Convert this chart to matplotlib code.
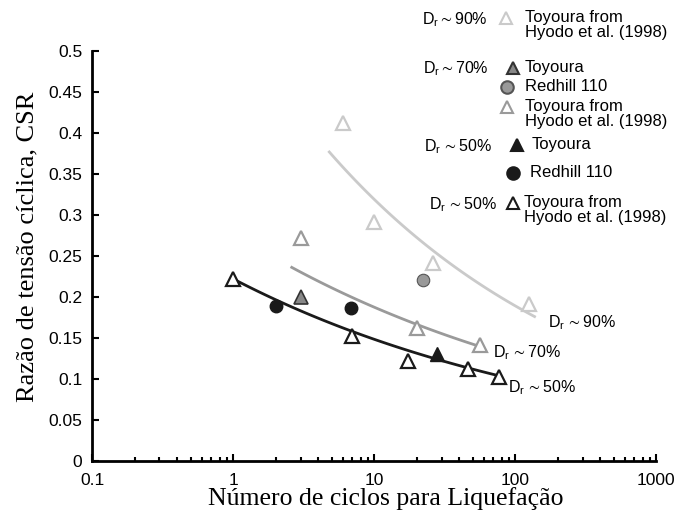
import numpy as np
import matplotlib
matplotlib.use("Agg")
import matplotlib.pyplot as plt

plt.rcParams['font.family'] = ['Liberation Sans', 'DejaVu Sans']
plt.rcParams['mathtext.fontset'] = 'custom'
plt.rcParams['mathtext.rm'] = 'Liberation Sans'
plt.rcParams['mathtext.it'] = 'Liberation Sans'
plt.rcParams['mathtext.fallback'] = 'stixsans'

# Dr ~90%, Toyoura from Hyodo et al. (1998)
n_90_hyodo = [6, 10, 26, 126]
csr_90_hyodo = [0.412, 0.291, 0.241, 0.192]

# Dr ~70%
n_70_toy = [3]
csr_70_toy = [0.20]
n_70_red = [22]
csr_70_red = [0.221]
n_70_hyodo = [3, 20, 56]
csr_70_hyodo = [0.272, 0.162, 0.141]

# Dr ~50%
n_50_toy = [28]
csr_50_toy = [0.131]
n_50_red = [2, 6.8]
csr_50_red = [0.189, 0.187]
n_50_hyodo = [1, 7, 17.4, 46, 77]
csr_50_hyodo = [0.222, 0.152, 0.122, 0.112, 0.102]

# trend curves CSR = a * N^b
curve_90 = dict(a=0.538, b=-0.227, n0=4.8, n1=137)
curve_70 = dict(a=0.278, b=-0.171, n0=2.6, n1=56)
curve_50 = dict(a=0.222, b=-0.175, n0=1.0, n1=78)

c90 = '#cacaca'
c70 = '#9a9a9a'
c50 = '#1a1a1a'

fig = plt.figure(figsize=(6.78, 5.2), dpi=100)
ax = fig.add_axes([0.136, 0.1135, 0.832, 0.7885])

for cv, col in [(curve_90, c90), (curve_70, c70), (curve_50, c50)]:
    nn = np.logspace(np.log10(cv['n0']), np.log10(cv['n1']), 60)
    ax.plot(nn, cv['a'] * nn ** cv['b'], color=col, lw=2, zorder=1)

tri = dict(marker='^', ms=10, mew=1.6, ls='none', zorder=3)
ax.plot(n_90_hyodo, csr_90_hyodo, mfc='white', mec=c90, **tri)
ax.plot(n_70_hyodo, csr_70_hyodo, mfc='white', mec=c70, **tri)
ax.plot(n_70_toy, csr_70_toy, mfc='#888888', mec='#333333', marker='^', ms=10, mew=1.2, ls='none', zorder=3)
ax.plot(n_70_red, csr_70_red, 'o', ms=9, mfc='#999999', mec='#555555', mew=0.8, zorder=3)
ax.plot(n_50_hyodo, csr_50_hyodo, mfc='white', mec=c50, **tri)
ax.plot(n_50_toy, csr_50_toy, '^', ms=10, color=c50, zorder=3)
ax.plot(n_50_red, csr_50_red, 'o', ms=9, color=c50, zorder=3)

ax.set_xscale('log')
ax.set_xlim(0.1, 1000)
ax.set_ylim(0, 0.5)
yt = np.arange(0, 0.51, 0.05)
ax.set_yticks(yt)
ax.set_yticklabels(['0', '0.05', '0.1', '0.15', '0.2', '0.25', '0.3', '0.35', '0.4', '0.45', '0.5'])
ax.set_xticks([0.1, 1, 10, 100, 1000])
ax.set_xticklabels(['0.1', '1', '10', '100', '1000'])
ax.tick_params(which='both', direction='in', labelsize=12.5, width=1.5)
ax.tick_params(which='major', length=5)
ax.tick_params(which='minor', length=3)
ax.tick_params(axis='x', which='major', pad=9)
ax.tick_params(axis='y', which='major', pad=7)
for s in ['top', 'right']:
    ax.spines[s].set_visible(False)
for s in ['left', 'bottom']:
    ax.spines[s].set_linewidth(2)

ax.set_xlabel('Número de ciclos para Liquefação', family='Liberation Serif', fontsize=18.5)
ax.set_ylabel('Razão de tensão cíclica, CSR', family='Liberation Serif', fontsize=19)
ax.xaxis.set_label_coords(0.52, -0.064)
ax.yaxis.set_label_coords(-0.095, 0.522)

# curve end labels
ax.text(171, 0.169, r'$\mathrm{D_r}\,\sim$90%', fontsize=11.5, va='center')
ax.text(69.5, 0.132, r'$\mathrm{D_r}\,\sim$70%', fontsize=11.5, va='center')
ax.text(88.7, 0.090, r'$\mathrm{D_r}\,\sim$50%', fontsize=11.5, va='center')

# legend drawn in figure pixels
W, H = 678, 520
leg_groups = [r'$\mathrm{D_r}\sim$90%', r'$\mathrm{D_r}\sim$70%', r'$\mathrm{D_r}\,\sim$50%', r'$\mathrm{D_r}\,\sim$50%']
leg_group_y = [20, 69, 147, 205]
leg_group_xr = [488, 489, 492, 497]
leg_items = [
    (506, 18, '^', 'white', c90, 525, 'Toyoura from\nHyodo et al. (1998)'),
    (513, 68, '^', '#888888', '#333333', 525, 'Toyoura'),
    (507, 87, 'o', '#999999', '#555555', 525, 'Redhill 110'),
    (507, 107, '^', 'white', c70, 525, 'Toyoura from\nHyodo et al. (1998)'),
    (517, 145, '^', c50, c50, 532, 'Toyoura'),
    (513, 173, 'o', c50, c50, 530, 'Redhill 110'),
    (513, 203, '^', 'white', c50, 524, 'Toyoura from\nHyodo et al. (1998)'),
]
for lab, y, xr in zip(leg_groups, leg_group_y, leg_group_xr):
    fig.text(xr / W, 1 - y / H, lab, fontsize=11.5, ha='right', va='center')
for x, y, m, fc, ec, tx, lab in leg_items:
    ax.plot([x / W], [1 - y / H], marker=m, ms=9, mfc=fc, mec=ec, mew=1.5,
            transform=fig.transFigure, clip_on=False, ls='none')
    fig.text(tx / W, 1 - (y - 8) / H, lab, fontsize=12, ha='left', va='top',
             linespacing=1.0)

fig.savefig('out.png', dpi=100)
